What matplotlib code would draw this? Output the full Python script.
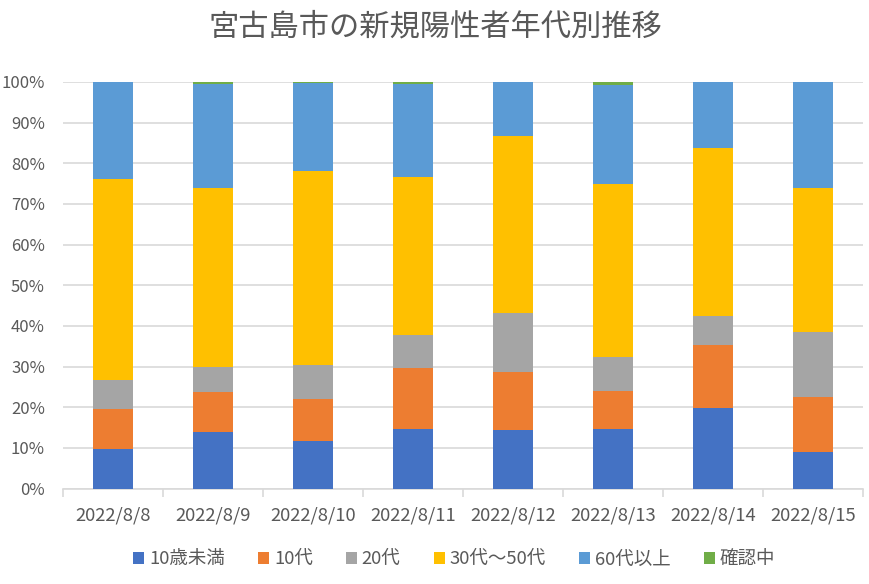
import matplotlib
matplotlib.use("Agg")
import matplotlib.pyplot as plt
import numpy as np

plt.rcParams['font.family'] = ['Noto Sans CJK JP', 'DejaVu Sans']

dates = ["2022/8/8", "2022/8/9", "2022/8/10", "2022/8/11",
         "2022/8/12", "2022/8/13", "2022/8/14", "2022/8/15"]
series_names = ["10歳未満", "10代", "20代", "30代～50代", "60代以上", "確認中"]
under10 = [9.7, 13.9, 11.7, 14.6, 14.4, 14.6, 19.9, 9.0]
teens = [9.9, 9.8, 10.3, 15.0, 14.3, 9.4, 15.4, 13.5]
twenties = [7.1, 6.2, 8.4, 8.2, 14.5, 8.3, 7.2, 16.1]
thirty_fifty = [49.4, 44.0, 47.7, 38.8, 43.5, 42.6, 41.3, 35.3]
over60 = [23.9, 25.7, 21.6, 23.0, 13.3, 24.4, 16.2, 26.1]
checking = [0.0, 0.4, 0.3, 0.4, 0.0, 0.7, 0.0, 0.0]
colors = ["#4472C4", "#ED7D31", "#A5A5A5", "#FFC000", "#5B9BD5", "#70AD47"]

data = np.array([under10, teens, twenties, thirty_fifty, over60, checking])
data = data / data.sum(axis=0) * 100

fig = plt.figure(figsize=(8.7, 5.84), dpi=100)
ax = fig.add_axes([0.0724, 0.1635, 0.9196, 0.6961])

x = np.arange(len(dates))
bottom = np.zeros(len(dates))
for vals, name, c in zip(data, series_names, colors):
    ax.bar(x, vals, 0.4, bottom=bottom, color=c, label=name, zorder=3)
    bottom += vals

ax.set_xlim(-0.5, len(dates) - 0.5)
ax.set_ylim(0, 100)
ax.set_yticks(np.arange(0, 101, 10))
ax.set_yticklabels([f"{v}%" for v in range(0, 101, 10)])
ax.yaxis.grid(True, color="#D9D9D9", linewidth=1.2, zorder=0)
ax.set_xticks(x)
ax.set_xticklabels(dates)
ax.set_xticks(np.arange(-0.5, len(dates)), minor=True)
ax.tick_params(axis='x', which='major', length=0, pad=13, labelsize=13.3, labelcolor="#595959")
ax.tick_params(axis='x', which='minor', length=6, width=1.2, color="#D9D9D9")
ax.tick_params(axis='y', length=0, pad=13, labelsize=12, labelcolor="#595959")
for s in ["top", "right", "left"]:
    ax.spines[s].set_visible(False)
ax.spines["bottom"].set_color("#D9D9D9")
ax.spines["bottom"].set_linewidth(1.2)

fig.suptitle("宮古島市の新規陽性者年代別推移", x=0.5, y=0.98, fontsize=21.8, color="#595959")

handles, labels = ax.get_legend_handles_labels()
fig.legend(handles, labels, loc="center", bbox_to_anchor=(0.522, 0.042), ncol=6,
           frameon=False, handlelength=0.6, handleheight=0.6, handletextpad=0.25,
           columnspacing=1.8, prop={'size': 13.3}, labelcolor="#595959")

fig.savefig("out.png", dpi=100)
